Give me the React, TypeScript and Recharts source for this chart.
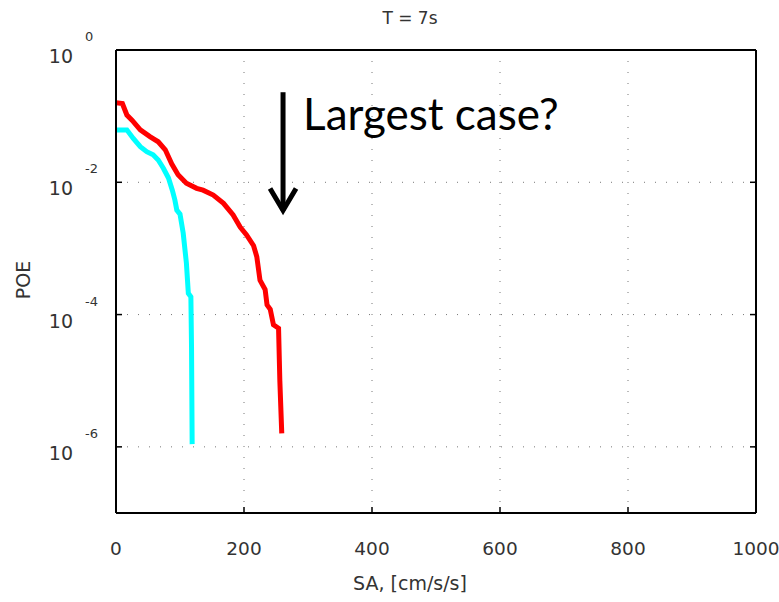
import { CartesianGrid, Line, LineChart, ReferenceLine, XAxis, YAxis } from "recharts";

// SA [cm/s/s] vs probability of exceedance, two curves
const redSa = [0, 10, 17, 25, 38, 53, 66, 77, 87, 97, 110, 126, 136, 152, 168, 183, 194, 204, 215, 220, 225, 233, 236, 241, 246, 254, 256, 259];
const redPoe = [0.16, 0.155, 0.104, 0.087, 0.062, 0.049, 0.041, 0.031, 0.019, 0.013, 0.0097, 0.0081, 0.0076, 0.0064, 0.0048, 0.0032, 0.0021, 0.0016, 0.0011, 0.00075, 0.00033, 0.00024, 0.00014, 0.00012, 7e-5, 6.2e-5, 1e-5, 1.6e-6];

const cyanSa = [0, 17, 27, 38, 48, 58, 66, 74, 82, 88, 92, 95, 100, 105, 110, 113, 117, 118, 119];
const cyanPoe = [0.062, 0.062, 0.046, 0.0345, 0.029, 0.026, 0.0217, 0.0163, 0.0116, 0.0076, 0.0054, 0.0038, 0.0033, 0.0017, 0.0006, 0.00021, 0.000186, 3.3e-5, 1.1e-6];

const xTicks = [0, 200, 400, 600, 800, 1000];
const yTicks = [1, 1e-2, 1e-4, 1e-6];

// "Largest case?" arrow: SA position, top and tip POE
const arrowSa = 261;
const arrowTop = 0.23;
const arrowTip = 0.0035;

const redData = redSa.map((sa, i) => ({ sa, poe: redPoe[i] }));
const cyanData = cyanSa.map((sa, i) => ({ sa, poe: cyanPoe[i] }));

const font = "'DejaVu Sans', sans-serif";
const textColor = "#333";

function BottomTick({ x, y, payload }: any) {
  return (
    <g>
      <line x1={x} y1={y} x2={x} y2={y - 6} stroke="#000" strokeWidth={1.5} />
      <text x={x} y={y + 42} textAnchor="middle" fontSize={18.5} fill={textColor} fontFamily={font}>
        {payload.value}
      </text>
    </g>
  );
}

function PowerTick({ x, y, payload }: any) {
  const exp = Math.round(Math.log10(payload.value));
  return (
    <g>
      <line x1={x} y1={y} x2={x + 6} y2={y} stroke="#000" strokeWidth={1.5} />
      <text x={x - 43} y={y + 13} textAnchor="end" fontSize={19} fill={textColor} fontFamily={font}>
        10
      </text>
      <text x={x - 31} y={y - 9} textAnchor="start" fontSize={13} fill={textColor} fontFamily={font}>
        {exp}
      </text>
    </g>
  );
}

function Arrow({ x1, y1, x2, y2 }: any) {
  return (
    <g>
      <line x1={x1} y1={y1} x2={x2} y2={y2 - 2} stroke="#000" strokeWidth={5} />
      <polyline
        points={`${x2 - 13},${y2 - 24} ${x2},${y2 - 2} ${x2 + 13},${y2 - 24}`}
        fill="none"
        stroke="#000"
        strokeWidth={5}
      />
      <text x={x1 + 20} y={y1 + 38} fontSize={44} fontFamily="Lato, sans-serif" fill="#000">
        Largest case?
      </text>
    </g>
  );
}

export default function App() {
  return (
    <div style={{ position: "absolute", left: 0, top: 0, width: 779, height: 602, background: "#fff", fontFamily: font }}>
      <div style={{ position: "absolute", left: 310, top: 6, width: 200, textAlign: "center", fontSize: 17, lineHeight: "24px", color: textColor }}>
        T = 7s
      </div>
      <div style={{ position: "absolute", left: 310, top: 571, width: 200, textAlign: "center", fontSize: 19, lineHeight: "24px", color: textColor }}>
        SA, [cm/s/s]
      </div>
      <div style={{ position: "absolute", left: -7, top: 268, width: 60, height: 24, textAlign: "center", fontSize: 19, lineHeight: "24px", color: textColor, transform: "rotate(-90deg)" }}>
        POE
      </div>
      <LineChart width={779} height={602} margin={{ top: 50, right: 23, bottom: 0, left: 0 }}>
        <CartesianGrid stroke="#777" strokeDasharray="1 10" />
        <XAxis
          type="number"
          dataKey="sa"
          domain={[0, 1000]}
          ticks={xTicks}
          height={89}
          tickSize={0}
          tickMargin={0}
          tickLine={false}
          axisLine={{ stroke: "#000", strokeWidth: 2 }}
          tick={<BottomTick />}
          allowDataOverflow
        />
        <XAxis
          xAxisId="top"
          orientation="top"
          type="number"
          domain={[0, 1000]}
          ticks={xTicks}
          mirror
          tickSize={6}
          tickLine={{ stroke: "#000", strokeWidth: 1.5 }}
          axisLine={{ stroke: "#000", strokeWidth: 2 }}
          tick={() => <g />}
        />
        <YAxis
          type="number"
          scale="log"
          domain={[1e-7, 1]}
          ticks={yTicks}
          width={116}
          tickSize={0}
          tickMargin={0}
          tickLine={false}
          axisLine={{ stroke: "#000", strokeWidth: 2 }}
          tick={<PowerTick />}
          allowDataOverflow
        />
        <YAxis
          yAxisId="right"
          orientation="right"
          type="number"
          scale="log"
          domain={[1e-7, 1]}
          ticks={yTicks}
          mirror
          tickSize={6}
          tickLine={{ stroke: "#000", strokeWidth: 1.5 }}
          axisLine={{ stroke: "#000", strokeWidth: 2 }}
          tick={() => <g />}
          allowDataOverflow
        />
        <Line data={cyanData} dataKey="poe" stroke="#00ffff" strokeWidth={5} dot={false} isAnimationActive={false} />
        <Line data={redData} dataKey="poe" stroke="#ff0000" strokeWidth={5} dot={false} isAnimationActive={false} />
        <ReferenceLine
          segment={[
            { x: arrowSa, y: arrowTop },
            { x: arrowSa, y: arrowTip },
          ]}
          shape={<Arrow />}
        />
      </LineChart>
    </div>
  );
}
